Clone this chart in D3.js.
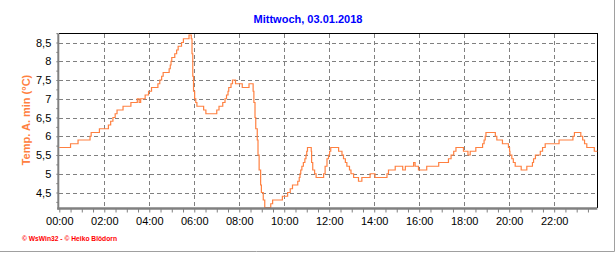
<!DOCTYPE html>
<html>
<head>
<meta charset="utf-8">
<script src="https://cdn.jsdelivr.net/npm/d3@7"></script>
<style>
  body { margin: 0; background: #fff; }
  svg { display: block; font-family: "Liberation Sans", Arial, sans-serif; }
</style>
</head>
<body>
<svg id="svg" width="616" height="253"></svg>
<script>
// minutes since midnight where the reading changes, and the reading from then on
var times = [0, 30, 50, 82, 85, 107, 131, 137, 143, 149, 154, 170, 191, 208, 213, 217, 229, 238, 246,
  263, 268, 273, 277, 293, 296, 298, 300, 308, 313, 317, 326, 331, 346, 352, 354, 356, 358, 361, 364, 367,
  385, 391, 420, 426, 436, 442, 446, 450, 452, 458, 462, 470, 488, 506, 517, 519, 522, 524, 528, 530, 533,
  537, 539, 544, 548, 564, 569, 595, 609, 616, 622, 636, 640, 642, 644, 647, 651, 655, 658, 660, 662,
  672, 673, 676, 681, 685, 705, 709, 714, 718, 721, 724, 745, 754, 758, 763, 767, 774, 778, 785, 798,
  807, 829, 842, 874, 878, 896, 916, 923, 945, 949, 958, 980, 1012, 1038, 1045, 1052, 1058, 1078, 1090,
  1096, 1111, 1129, 1133, 1136, 1138, 1163, 1167, 1182, 1198, 1201, 1202, 1207, 1211, 1216, 1232, 1247,
  1262, 1265, 1270, 1283, 1289, 1296, 1333, 1370, 1374, 1391, 1396, 1401, 1407, 1427, 1435];
var temps = [5.7, 5.8, 5.9, 6.0, 6.1, 6.2, 6.3, 6.4, 6.5, 6.6, 6.7, 6.8, 6.9, 7.0, 6.9, 7.0, 7.1, 7.2, 7.3,
  7.4, 7.5, 7.6, 7.7, 7.8, 7.9, 8.0, 8.1, 8.2, 8.3, 8.4, 8.5, 8.6, 8.7, 8.6, 8.2, 7.6, 7.2, 7.0, 6.9, 6.8,
  6.7, 6.6, 6.7, 6.8, 6.9, 7.0, 7.1, 7.2, 7.3, 7.4, 7.5, 7.4, 7.3, 7.4, 7.2, 6.9, 6.5, 6.2, 5.9, 5.5, 5.1,
  4.7, 4.5, 4.3, 4.1, 4.2, 4.3, 4.4, 4.5, 4.6, 4.7, 4.8, 4.9, 5.0, 5.1, 5.2, 5.3, 5.4, 5.5, 5.6, 5.7,
  5.6, 5.3, 5.1, 5.0, 4.9, 5.0, 5.2, 5.4, 5.5, 5.6, 5.7, 5.6, 5.5, 5.4, 5.3, 5.2, 5.1, 5.0, 4.9, 4.8,
  4.9, 5.0, 4.9, 5.0, 5.1, 5.2, 5.1, 5.2, 5.3, 5.2, 5.1, 5.2, 5.3, 5.4, 5.5, 5.6, 5.7, 5.6, 5.5,
  5.6, 5.7, 5.8, 5.9, 6.0, 6.1, 6.0, 5.9, 5.8, 5.7, 5.6, 5.5, 5.4, 5.3, 5.2, 5.1, 5.2,
  5.3, 5.4, 5.5, 5.6, 5.7, 5.8, 5.9, 6.0, 6.1, 6.0, 5.9, 5.8, 5.7, 5.6, 5.6];

var hourTicks = [120, 240, 360, 480, 600, 720, 840, 960, 1080, 1200, 1320]; // grid every 2h
var hourLabels = ["00:00", "02:00", "04:00", "06:00", "08:00", "10:00", "12:00", "14:00", "16:00", "18:00", "20:00", "22:00"];
var tempTicks = [4.5, 5, 5.5, 6, 6.5, 7, 7.5, 8, 8.5];

var title = "Mittwoch, 03.01.2018";
var yTitle = "Temp. A. min (°C)";
var footer = "© WsWin32 - © Heiko Blödorn";

var margin = {top: 33.5, right: 597.3, bottom: 207.5, left: 59.3};
var lineColor = "#ff8040";

var svg = d3.select("#svg");
var data = times.map((t, i) => ({t: t, v: temps[i]}));

var x = d3.scaleLinear()
  .domain([0, 1435])
  .range([margin.left, margin.right]);

var y = d3.scaleLinear()
  .domain([4.1, 8.74])
  .range([margin.bottom, margin.top]);

// outer frame, only right and bottom edges show
svg.append("path")
    .attr("d", "M614.5,0V251.5H0")
    .attr("fill", "none")
    .attr("stroke", "#a0a0a0");

svg.append("text")
    .attr("x", 308)
    .attr("y", 19)
    .attr("text-anchor", "middle")
    .attr("dominant-baseline", "central")
    .attr("fill", "#0000ff")
    .style("font-weight", "bold")
    .style("font-size", "11px")
    .text(title);

// dashed grid
var grid = svg.append("g")
    .attr("stroke", "#808080")
    .attr("stroke-dasharray", "4,3")
    .attr("shape-rendering", "crispEdges");

grid.selectAll("line.h")
  .data(tempTicks)
  .join("line")
    .attr("class", "h")
    .attr("x1", margin.left)
    .attr("x2", margin.right)
    .attr("y1", d => Math.round(y(d)) + 0.5)
    .attr("y2", d => Math.round(y(d)) + 0.5);

grid.selectAll("line.v")
  .data(hourTicks)
  .join("line")
    .attr("class", "v")
    .attr("y1", margin.top)
    .attr("y2", margin.bottom)
    .attr("x1", d => Math.round(x(d)) + 0.5)
    .attr("x2", d => Math.round(x(d)) + 0.5);

// top and right border
svg.append("path")
    .attr("d", "M" + margin.left + "," + margin.top + "H" + margin.right + "V" + margin.bottom)
    .attr("fill", "none")
    .attr("stroke", "#000")
    .attr("shape-rendering", "crispEdges");

// the temperature line, stepped like the logger output
var line = d3.line()
  .curve(d3.curveStepAfter)
  .x(d => x(d.t))
  .y(d => y(d.v));

svg.append("path")
    .datum(data)
    .attr("d", line)
    .attr("fill", "none")
    .attr("stroke", lineColor)
    .attr("stroke-width", 1.2);

// left axis: labels every 0,5, minor ticks every 0,25
var yAxis = d3.axisLeft(y)
  .tickValues(d3.range(4.25, 8.751, 0.25))
  .tickSize(2)
  .tickPadding(5)
  .tickFormat(d => (Math.abs(d * 2 - Math.round(d * 2)) < 1e-6) ? String(d).replace(".", ",") : "");

var gy = svg.append("g")
    .attr("transform", "translate(" + (margin.left - 1) + ",0)")
    .call(yAxis);
gy.select(".domain").remove();
gy.selectAll(".tick line").attr("stroke", "#808080");
gy.selectAll(".tick text")
    .attr("fill", "#000")
    .style("font-size", "11px")
    .style("font-family", "'Liberation Sans', Arial, sans-serif");

svg.append("line")
    .attr("x1", margin.left - 1)
    .attr("x2", margin.left - 1)
    .attr("y1", margin.top)
    .attr("y2", margin.bottom + 2)
    .attr("stroke", "#808080")
    .attr("stroke-width", 2);

// bottom axis: ticks every 30 min, labels every 2h
var xAxis = d3.axisBottom(x)
  .tickValues(d3.range(0, 1435, 30))
  .tickSize(4)
  .tickPadding(4.5)
  .tickFormat(d => d % 120 === 0 ? hourLabels[d / 120] : "");

var gx = svg.append("g")
    .attr("transform", "translate(0," + (margin.bottom + 1) + ")")
    .call(xAxis);
gx.select(".domain").remove();
gx.selectAll(".tick line").attr("stroke", "#808080");
gx.selectAll(".tick text")
    .attr("fill", "#000")
    .style("font-size", "11px")
    .style("font-family", "'Liberation Sans', Arial, sans-serif");

svg.append("line")
    .attr("x1", margin.left - 2)
    .attr("x2", margin.right)
    .attr("y1", margin.bottom + 1)
    .attr("y2", margin.bottom + 1)
    .attr("stroke", "#808080")
    .attr("stroke-width", 2.5);

svg.append("text")
    .attr("transform", "translate(26,120) rotate(-90)")
    .attr("text-anchor", "middle")
    .attr("dominant-baseline", "central")
    .attr("fill", lineColor)
    .style("font-weight", "bold")
    .style("font-size", "11px")
    .text(yTitle);

svg.append("text")
    .attr("x", 22)
    .attr("y", 240.5)
    .attr("fill", "#ff0000")
    .attr("textLength", 95)
    .attr("lengthAdjust", "spacingAndGlyphs")
    .style("font-weight", "bold")
    .style("font-size", "7px")
    .text(footer);
</script>
</body>
</html>
